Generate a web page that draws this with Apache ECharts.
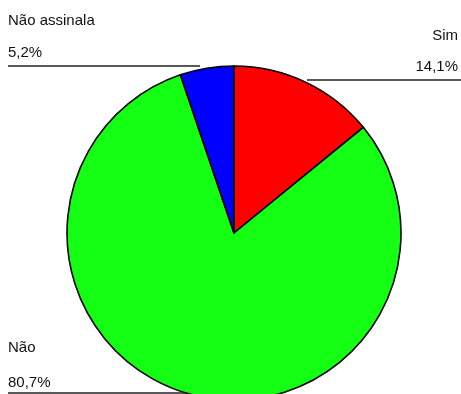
<!DOCTYPE html>
<html>
<head>
<meta charset="utf-8">
<script src="https://cdn.jsdelivr.net/npm/echarts@6/dist/echarts.min.js"></script>
<style>
  html, body { margin: 0; padding: 0; background: #fff; }
  #chart { width: 461px; height: 394px; }
</style>
</head>
<body>
<div id="chart"></div>
<script>
// Answer categories and their shares (%)
const categories = ['Sim', 'Não', 'Não assinala'];
const values = [14.1, 80.7, 5.2];
const colors = ['#ff0000', '#14ff14', '#0000ff'];

const fmt = v => v.toFixed(1).replace('.', ',') + '%';
const FONT = '"Liberation Sans", Arial, sans-serif';
const TEXT_COLOR = '#111';
const LINE_COLOR = '#222';

const chart = echarts.init(document.getElementById('chart'), null, { renderer: 'canvas' });

// Label block: name, value below it, and a leader line under the value
function labelBlock(idx, opt) {
  return [
    { type: 'text', left: opt.left, right: opt.right, top: opt.nameTop,
      style: { text: categories[idx], font: '15px ' + FONT, fill: TEXT_COLOR } },
    { type: 'text', left: opt.left, right: opt.right, top: opt.valueTop,
      style: { text: fmt(values[idx]), font: '15px ' + FONT, fill: TEXT_COLOR } },
    { type: 'line', shape: { x1: opt.x1, y1: opt.lineY, x2: opt.x2, y2: opt.lineY },
      style: { stroke: LINE_COLOR, lineWidth: 1.6 }, z: 10 }
  ];
}

chart.setOption({
  animation: false,
  backgroundColor: '#fff',
  series: [{
    type: 'pie',
    center: [234, 233],
    radius: 167,
    startAngle: 90,
    clockwise: true,
    label: { show: false },
    labelLine: { show: false },
    emphasis: { disabled: true },
    itemStyle: { borderColor: '#000', borderWidth: 1.6 },
    data: categories.map((c, i) => ({ name: c, value: values[i], itemStyle: { color: colors[i] } }))
  }],
  graphic: [
    ...labelBlock(2, { left: 8, nameTop: 13, valueTop: 45, lineY: 66, x1: 8, x2: 200 }),
    ...labelBlock(0, { right: 3, nameTop: 28, valueTop: 59, lineY: 80, x1: 307, x2: 461 }),
    ...labelBlock(1, { left: 8, nameTop: 340, valueTop: 375, lineY: 393, x1: 8, x2: 186 })
  ]
});
</script>
</body>
</html>
